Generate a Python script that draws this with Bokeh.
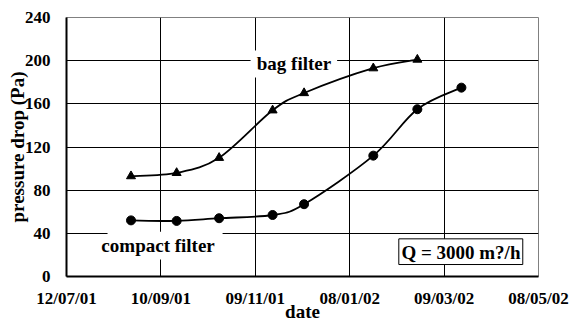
from datetime import datetime
import numpy as np
from bokeh.plotting import figure
from bokeh.models import FixedTicker, DatetimeTickFormatter, Label, BoxAnnotation, Range1d
from bokeh.embed import file_html
from bokeh.resources import INLINE

# ---- data ----
tick_labels = ["12/07/01", "10/09/01", "09/11/01", "08/01/02", "09/03/02", "08/05/02"]
y_ticks = [0, 40, 80, 120, 160, 200, 240]

bag_dates = ["2001-08-22", "2001-09-20", "2001-10-17", "2001-11-20", "2001-12-10", "2002-01-23", "2002-02-20"]
bag_dp = [93, 96, 110, 154, 170, 193, 201]

compact_dates = ["2001-08-22", "2001-09-20", "2001-10-17", "2001-11-20", "2001-12-10", "2002-01-23", "2002-02-20", "2002-03-20"]
compact_dp = [52, 51.5, 54, 57, 67, 112, 155, 175]

EPOCH = datetime(1970, 1, 1)


def ms(d):
    return (d - EPOCH).total_seconds() * 1000.0


def ms_iso(s):
    return ms(datetime.strptime(s, "%Y-%m-%d"))


tick_ms = [ms(datetime.strptime(t, "%d/%m/%y")) for t in tick_labels]
FONT = "Liberation Serif"

p = figure(width=574, height=325, x_axis_type="datetime",
           output_backend="svg", toolbar_location=None,
           x_range=Range1d(tick_ms[0], tick_ms[-1]), y_range=Range1d(0, 240),
           min_border_left=66, min_border_right=36, min_border_top=17, min_border_bottom=49)

p.background_fill_color = "white"
p.border_fill_color = "white"
p.outline_line_color = "#808080"
p.outline_line_width = 1

# axes
p.xaxis.ticker = FixedTicker(ticks=tick_ms)
fmt = "%d/%m/%y"
p.xaxis.formatter = DatetimeTickFormatter(milliseconds=fmt, seconds=fmt, minsec=fmt, minutes=fmt,
                                          hourmin=fmt, hours=fmt, days=fmt, months=fmt, years=fmt)
p.yaxis.ticker = FixedTicker(ticks=y_ticks)
for ax in (p.xaxis[0], p.yaxis[0]):
    ax.axis_line_color = "black"
    ax.axis_line_width = 2
    ax.major_tick_out = 0
    ax.major_tick_in = 0
    ax.minor_tick_out = 0
    ax.minor_tick_in = 0
    ax.major_label_text_font = FONT
    ax.major_label_text_font_style = "bold"
    ax.major_label_text_font_size = "17px"
    ax.major_label_text_color = "black"
    ax.axis_label_text_font = FONT
    ax.axis_label_text_font_style = "bold"
    ax.axis_label_text_font_size = "19px"
    ax.axis_label_text_color = "black"

p.xaxis.axis_label = "date"
p.yaxis.axis_label = "pressure drop (Pa)"
p.xaxis.major_label_standoff = 12
p.xaxis.axis_label_standoff = -10
p.yaxis.major_label_standoff = 16
p.yaxis.axis_label_standoff = -6

# grid
p.xgrid.ticker = FixedTicker(ticks=tick_ms)
p.ygrid.ticker = FixedTicker(ticks=y_ticks)
for g in (p.xgrid[0], p.ygrid[0]):
    g.grid_line_color = "black"
    g.grid_line_width = 1
    g.grid_line_alpha = 1.0


def smooth_segments(xs, ys):
    xs = np.asarray(xs, float)
    ys = np.asarray(ys, float)
    n = len(xs)
    seg = dict(x0=[], y0=[], x1=[], y1=[], cx0=[], cy0=[], cx1=[], cy1=[])
    for i in range(n - 1):
        a = i - 1 if i > 0 else i
        b = i + 2 if i + 2 < n else i + 1
        seg["x0"].append(xs[i]); seg["y0"].append(ys[i])
        seg["x1"].append(xs[i + 1]); seg["y1"].append(ys[i + 1])
        seg["cx0"].append(xs[i] + (xs[i + 1] - xs[a]) / 6.0)
        seg["cy0"].append(ys[i] + (ys[i + 1] - ys[a]) / 6.0)
        seg["cx1"].append(xs[i + 1] - (xs[b] - xs[i]) / 6.0)
        seg["cy1"].append(ys[i + 1] - (ys[b] - ys[i]) / 6.0)
    return seg


bag_x = [ms_iso(d) for d in bag_dates]
compact_x = [ms_iso(d) for d in compact_dates]

p.bezier(**smooth_segments(bag_x, bag_dp), line_color="black", line_width=1.8)
p.bezier(**smooth_segments(compact_x, compact_dp), line_color="black", line_width=1.8)

p.scatter(bag_x, bag_dp, marker="triangle", size=9, fill_color="black", line_color="black")
p.scatter(compact_x, compact_dp, marker="circle", size=9, fill_color="black", line_color="black")

# annotations
p.add_layout(BoxAnnotation(left=ms(datetime(2001, 11, 6)), right=ms(datetime(2001, 12, 31)),
                           bottom=184.4, top=209.4, fill_color="white", fill_alpha=1.0,
                           line_color=None))
p.add_layout(Label(x=ms(datetime(2001, 12, 3, 14)), y=197, text="bag filter",
                   text_font=FONT, text_font_style="bold", text_font_size="19px",
                   text_align="center", text_baseline="middle", text_color="black"))

p.add_layout(BoxAnnotation(left=ms(datetime(2001, 8, 7, 2)), right=ms(datetime(2001, 10, 19, 5)),
                           bottom=15.8, top=41.5, fill_color="white", fill_alpha=1.0,
                           line_color=None))
p.add_layout(Label(x=ms(datetime(2001, 9, 8, 5)), y=28.4, text="compact filter",
                   text_font=FONT, text_font_style="bold", text_font_size="19px",
                   text_align="center", text_baseline="middle", text_color="black"))

p.add_layout(BoxAnnotation(left=ms(datetime(2002, 2, 8, 5)), right=ms(datetime(2002, 4, 28)),
                           bottom=11.1, top=34.9, fill_color="white", fill_alpha=1.0,
                           line_color="black", line_width=1, line_alpha=1.0))
p.add_layout(Label(x=ms(datetime(2002, 3, 19, 17)), y=22.2, text="Q = 3000 m?/h",
                   text_font=FONT, text_font_style="bold", text_font_size="19px",
                   text_align="center", text_baseline="middle", text_color="black"))

open("out.html", "w").write(file_html(p, INLINE))
